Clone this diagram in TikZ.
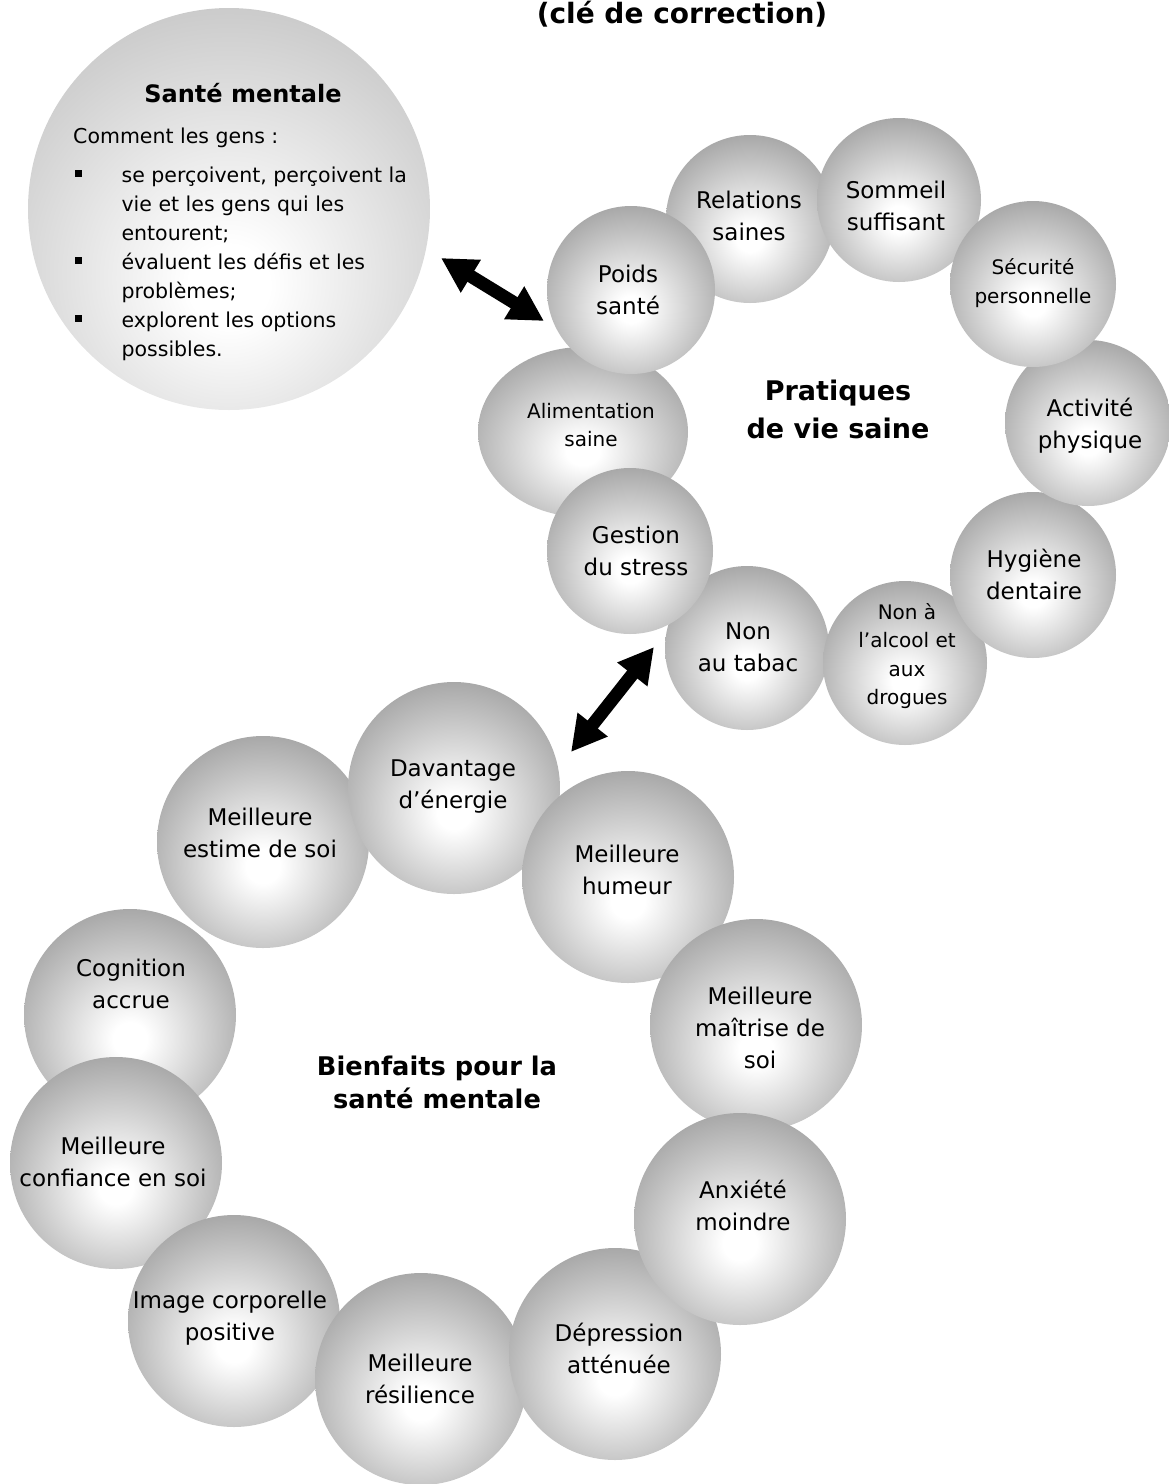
\documentclass[tikz,border=0pt]{standalone}
\usepackage{fontspec}
\setmainfont{DejaVu Sans}
\usetikzlibrary{arrows.meta,shapes.geometric}
\pgfdeclareradialshading{ballshade}{\pgfpoint{0bp}{-6bp}}{color(0bp)=(white); color(4bp)=(white); color(30bp)=(black!35); color(45bp)=(black!42); color(100bp)=(black!42)}
\pgfdeclareradialshading{bigshade}{\pgfpoint{0bp}{-10bp}}{color(0bp)=(white); color(5bp)=(white); color(38bp)=(black!25); color(50bp)=(black!28); color(100bp)=(black!28)}
\newcommand{\bulsq}{\makebox[48.4pt][l]{\hspace{2pt}\rule[5pt]{7pt}{7pt}}}
\tikzset{
  ball/.style={circle, draw=none, inner sep=0pt, minimum size=#1, shade, shading=ballshade},
  bigball/.style={circle, draw=none, inner sep=0pt, minimum size=#1, shade, shading=bigshade},
  lbl/.style={align=center, inner sep=0pt, font=\fontsize{23}{32}\selectfont},
  slbl/.style={align=center, inner sep=0pt, font=\fontsize{20}{28.5}\selectfont},
  head/.style={align=center, inner sep=0pt, font=\bfseries\fontsize{26}{36}\selectfont},
  dblarrow/.style={line width=13pt, <->, >={Triangle[length=35pt,width=36pt]}}
}
\begin{document}
\begin{tikzpicture}[x=1pt,y=-1pt]
\useasboundingbox (0,0) rectangle (1169,1484);
% title
\node[anchor=base, inner sep=0pt, font=\bfseries\fontsize{28}{34}\selectfont] (title) at (682,23) {(clé de correction)};
% big circle
\node[bigball=402pt] (sante) at (229,209) {};
\node[anchor=base, inner sep=0pt, font=\bfseries\fontsize{24}{29}\selectfont] (sante-title) at (243,102.5) {Santé mentale};
\node[anchor=base west, inner sep=0pt, font=\fontsize{20.5}{29}\selectfont] (sante-body) at (73,143.3) {%
\begin{tabular}[t]{@{}l@{}l@{}}
\multicolumn{2}{@{}l@{}}{Comment les gens :}\\[9.7pt]
\bulsq & se perçoivent, perçoivent la\\
 & vie et les gens qui les\\
 & entourent;\\
\bulsq & évaluent les défis et les\\
 & problèmes;\\
\bulsq & explorent les options\\
 & possibles.
\end{tabular}};
% top ring
\node[ball=168pt] (rel) at (750,219) {};
\node[ball=164pt] (som) at (899,200) {};
\node[ball=164pt] (tab) at (747,648) {};
\node[ball=164pt] (alc) at (905,663) {};
\node[ball=166pt] (hyg) at (1033,575) {};
\node[ball=166pt] (act) at (1088,423) {};
\node[ball=166pt] (secu) at (1033,284) {};
\node[ellipse, draw=none, inner sep=0pt, minimum width=210pt, minimum height=170pt, shade, shading=ballshade] (ali) at (583,432) {};
\node[ball=168pt] (poids) at (631,290) {};
\node[ball=166pt] (ges) at (630,551) {};
\node[lbl] (poids-t) at (628,290) {Poids\\santé};
\node[lbl] (rel-t) at (749,216) {Relations\\saines};
\node[lbl] (som-t) at (896,206) {Sommeil\\suffisant};
\node[slbl] (secu-t) at (1033,283) {Sécurité\\personnelle};
\node[lbl] (act-t) at (1090,426) {Activité\\physique};
\node[lbl] (hyg-t) at (1034,574) {Hygiène\\dentaire};
\node[slbl] (alc-t) at (907,656) {Non à\\l’alcool et\\aux\\drogues};
\node[lbl] (tab-t) at (748,647) {Non\\au tabac};
\node[lbl] (ges-t) at (636,551) {Gestion\\du stress};
\node[slbl] (ali-t) at (591,425) {Alimentation\\saine};
\node[head, font=\bfseries\fontsize{27}{38}\selectfont] (prat) at (838,409) {Pratiques\\de vie saine};
% bottom ring
\node[ball=212pt] (cog) at (130,1015) {};
\node[ball=212pt] (conf) at (116,1163) {};
\node[ball=212pt] (img) at (234,1321) {};
\node[ball=212pt] (res) at (421,1379) {};
\node[ball=212pt] (dep) at (615,1354) {};
\node[ball=212pt] (est) at (263,842) {};
\node[ball=212pt] (dav) at (454,788) {};
\node[ball=212pt] (hum) at (628,877) {};
\node[ball=212pt] (mai) at (756,1025) {};
\node[ball=212pt] (anx) at (740,1219) {};
\node[lbl] (cog-t) at (131,984) {Cognition\\accrue};
\node[lbl] (conf-t) at (113,1162) {Meilleure\\confiance en soi};
\node[lbl] (img-t) at (230,1318) {Image corporelle\\positive};
\node[lbl] (res-t) at (420,1379) {Meilleure\\résilience};
\node[lbl] (dep-t) at (619,1348) {Dépression\\atténuée};
\node[lbl] (est-t) at (260,833) {Meilleure\\estime de soi};
\node[lbl] (dav-t) at (453,786) {Davantage\\d’énergie};
\node[lbl] (hum-t) at (627,870) {Meilleure\\humeur};
\node[lbl] (mai-t) at (760,1028) {Meilleure\\maîtrise de\\soi};
\node[lbl] (anx-t) at (743,1205) {Anxiété\\moindre};
\node[head, font=\bfseries\fontsize{25.7}{33}\selectfont] (bien) at (437,1082) {Bienfaits pour la\\santé mentale};
% arrows
\coordinate (a1s) at (441,258);
\coordinate (a1e) at (544,321);
\coordinate (a2s) at (654,647);
\coordinate (a2e) at (571,752);
\draw[dblarrow] (a1s) -- (a1e);
\draw[dblarrow] (a2s) -- (a2e);
\end{tikzpicture}
\end{document}
